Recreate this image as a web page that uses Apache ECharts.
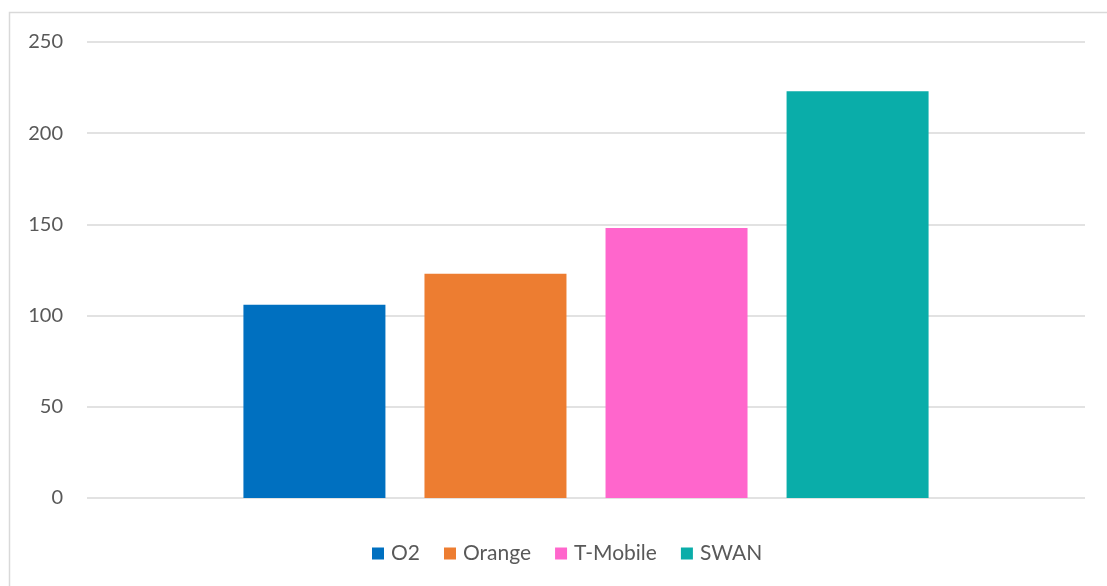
<!DOCTYPE html>
<html>
<head>
<meta charset="utf-8">
<script src="https://cdn.jsdelivr.net/npm/echarts@6/dist/echarts.min.js"></script>
<style>
  html, body { margin: 0; padding: 0; background: #fff; }
  #chart { width: 1107px; height: 586px; }
</style>
</head>
<body>
<div id="chart"></div>
<script>
// data
var categories = [''];
var seriesNames = ['O2', 'Orange', 'T-Mobile', 'SWAN'];
var seriesValues = [106, 123, 148, 223];
var seriesColors = ['#0070C0', '#ED7D31', '#FF66CC', '#0AADA9'];
var yTicks = { min: 0, max: 250, interval: 50 };

var chart = echarts.init(document.getElementById('chart'));

var series = seriesNames.map(function (name, i) {
  return {
    name: name,
    type: 'bar',
    data: [seriesValues[i]],
    barWidth: 142,
    barGap: '27.5%',
    itemStyle: { color: seriesColors[i] }
  };
});

var option = {
  animation: false,
  backgroundColor: '#fff',
  textStyle: { fontFamily: 'Lato' },
  graphic: [{
    type: 'rect',
    silent: true,
    shape: { x: 9.5, y: 12.5, width: 1200, height: 700 },
    style: { fill: 'none', stroke: '#d9d9d9', lineWidth: 1.5 }
  }],
  grid: {
    left: 87,
    right: 22,
    top: 42,
    bottom: 88
  },
  legend: {
    left: 367,
    top: 538,
    itemWidth: 12,
    itemHeight: 12,
    itemGap: 24,
    icon: 'rect',
    data: seriesNames,
    textStyle: { color: '#595959', fontSize: 21, fontFamily: 'Lato', padding: [0, 0, 0, 2] }
  },
  xAxis: {
    type: 'category',
    data: categories,
    axisLine: { show: false },
    axisTick: { show: false },
    axisLabel: { show: false }
  },
  yAxis: {
    type: 'value',
    min: yTicks.min,
    max: yTicks.max,
    interval: yTicks.interval,
    axisLine: { show: false },
    axisTick: { show: false },
    axisLabel: {
      color: '#595959',
      fontSize: 20,
      fontFamily: 'Lato',
      margin: 24
    },
    splitLine: { lineStyle: { color: '#d9d9d9', width: 1.5 } }
  },
  series: series
};

chart.setOption(option);
</script>
</body>
</html>
